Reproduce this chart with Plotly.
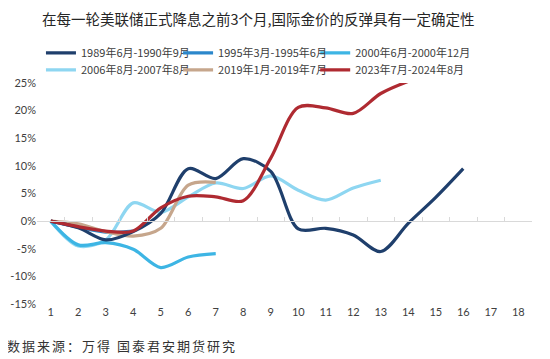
import plotly.graph_objects as go

months = list(range(1, 19))
tick_labels = [str(m) for m in months]

names = ["1989年6月-1990年9月", "1995年3月-1995年6月", "2000年6月-2000年12月",
         "2006年8月-2007年8月", "2019年1月-2019年7月", "2023年7月-2024年8月"]

s1989 = [0, -1.2, -3.4, -1.9, 1.4, 9.5, 7.7, 11.3, 9.0, -1.4, -1.3, -2.5, -5.5, -0.4, 4.3, 9.5]
s1995 = [0, -1.1, -2.0, -1.8]
s2000 = [0, -4.3, -3.9, -5.1, -8.4, -6.5, -5.9]
s2006 = [0, -4.5, -3.4, 3.3, 1.6, 4.4, 6.9, 5.9, 8.2, 5.6, 3.8, 6.0, 7.4]
s2019 = [0, -0.5, -1.9, -2.7, -1.3, 6.5, 7.0]
s2023 = [0, -1.0, -1.8, -1.8, 2.4, 4.5, 4.4, 3.7, 11.4, 20.6, 20.5, 19.5, 23.1, 25.3]

series = [s1989, s1995, s2000, s2006, s2019, s2023]
colors = ["#1F3F6C", "#2B87CB", "#3DB5E4", "#8ED6F1", "#C6A68C", "#AF2A31"]
draw_order = [3, 2, 1, 4, 0, 5]
legend_ids = ["legend", "legend2", "legend3", "legend4", "legend5", "legend6"]

fig = go.Figure()
for k in draw_order:
    vals = series[k]
    fig.add_trace(go.Scatter(
        x=months[:len(vals)], y=vals, mode="lines", name=names[k],
        line=dict(color=colors[k], width=3.2, shape="spline", smoothing=0.9),
        legend=legend_ids[k],
    ))

# helper axis line at 0% with tick marks between categories
fig.add_trace(go.Scatter(x=[0.5, 18.5], y=[0, 0], mode="lines", xaxis="x2",
                         line=dict(color="rgba(0,0,0,0)"), showlegend=False, hoverinfo="skip"))

font_cjk = "Noto Sans CJK SC"
legend_font = dict(family=font_cjk, size=11, color="#404040")
leg_x = [0.008, 0.285, 0.562]
leg_y = [1.136, 1.059]
legends = {}
for i, lid in enumerate(legend_ids):
    legends[lid] = dict(x=leg_x[i % 3], xanchor="left", y=leg_y[i // 3], yanchor="middle",
                        font=legend_font, itemwidth=30, bgcolor="rgba(0,0,0,0)")

# the page body adds an 8px offset, so the figure is sized/positioned to compensate
fig.update_layout(
    width=542, height=351,
    margin=dict(l=29, t=75, r=18, b=55, autoexpand=False),
    paper_bgcolor="white", plot_bgcolor="white",
    showlegend=True,
    xaxis=dict(range=[0.5, 18.5], tickvals=months, ticktext=tick_labels, showgrid=False,
               zeroline=False, showline=False, ticks="",
               tickfont=dict(family="Lato", size=11, color="#404040")),
    xaxis2=dict(range=[0.5, 18.5], overlaying="x", anchor="free", position=0.375, side="bottom",
                tickvals=[m - 0.5 for m in months] + [18.5], showticklabels=False,
                ticks="inside", ticklen=4, tickcolor="#D9D9D9", showline=True,
                linecolor="#D9D9D9", linewidth=1, showgrid=False, zeroline=False),
    yaxis=dict(range=[-15, 25], tickvals=[-15, -10, -5, 0, 5, 10, 15, 20, 25],
               ticktext=["-15%", "-10%", "-5%", "0%", "5%", "10%", "15%", "20%", "25%"],
               showgrid=False, zeroline=False, showline=False,
               tickfont=dict(family="Lato", size=11, color="#404040")),
    annotations=[
        dict(text="在每一轮美联储正式降息之前3个月,国际金价的反弹具有一定确定性",
             xref="paper", yref="paper", x=0.4465, xanchor="center", y=1.294, yanchor="middle",
             showarrow=False, font=dict(family=font_cjk, size=14.5, color="#262626")),
        dict(text='<span style="letter-spacing:2px">数据来源：万得 国泰君安期货研究</span>',
             xref="paper", yref="paper", x=-0.064, xanchor="left", y=-0.19, yanchor="middle",
             showarrow=False, font=dict(family=font_cjk, size=13, color="#333333")),
    ],
    **legends,
)

fig.write_html("out.html")
